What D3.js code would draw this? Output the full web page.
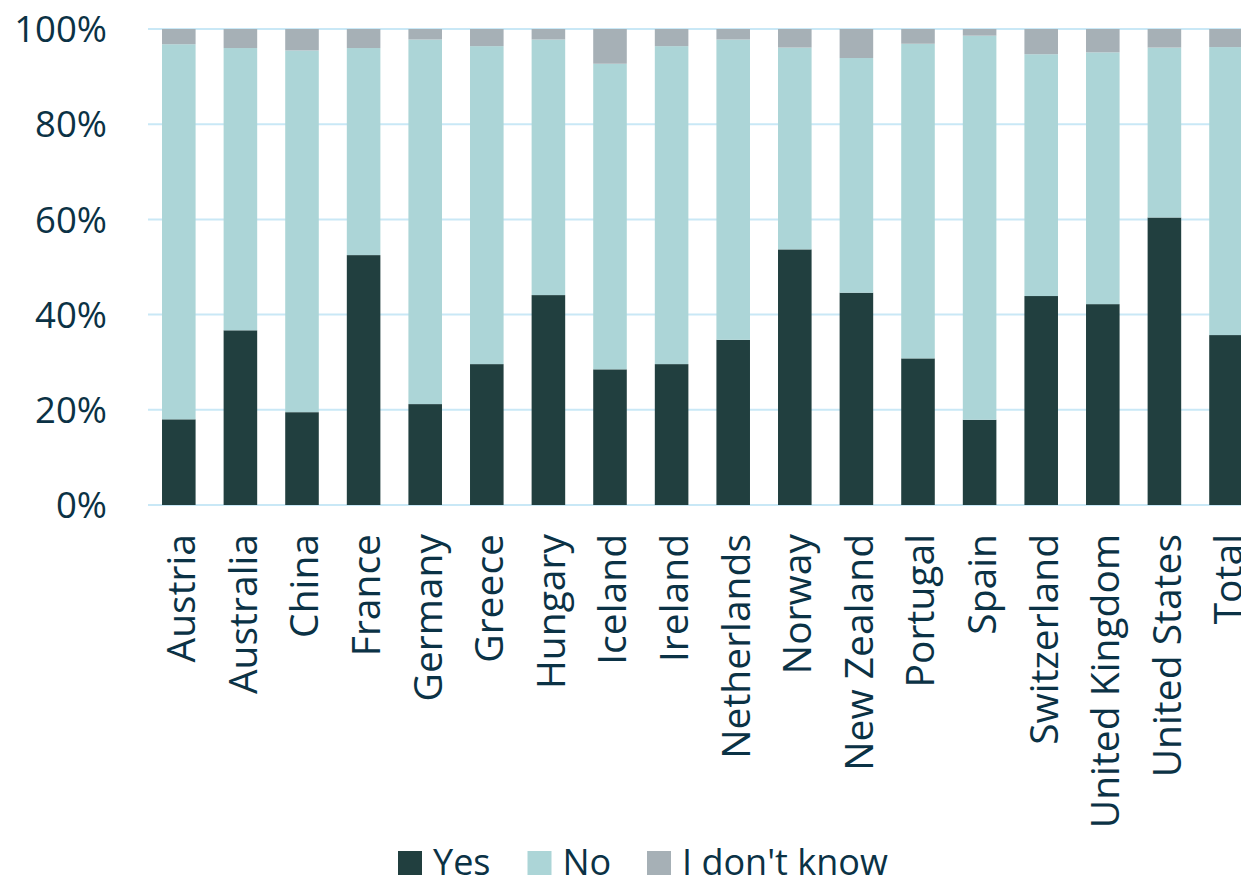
<!DOCTYPE html>
<html><head><meta charset="utf-8">
<script src="https://cdn.jsdelivr.net/npm/d3@7/dist/d3.min.js"></script>
<style>body{margin:0;background:#fff}svg{display:block}text{font-family:"Open Sans",sans-serif}</style>
</head><body><svg id="c" width="1241" height="878"></svg>
<script>
const categories = ["Austria","Australia","China","France","Germany","Greece","Hungary","Iceland","Ireland","Netherlands","Norway","New Zealand","Portugal","Spain","Switzerland","United Kingdom","United States","Total"];
const yesValues = [18.0,36.7,19.5,52.5,21.2,29.6,44.1,28.5,29.6,34.7,53.7,44.6,30.8,17.9,43.9,42.2,60.4,35.7];
const noValues  = [78.8,59.3,76.0,43.5,76.6,66.8,53.7,64.2,66.8,63.1,42.4,49.3,66.1,80.7,50.8,52.9,35.7,60.5];
const idkValues = [3.2,4.0,4.5,4.0,2.2,3.6,2.2,7.3,3.6,2.2,3.9,6.1,3.1,1.4,5.3,4.9,3.9,3.8];
const seriesNames = ["Yes","No","I don't know"];
const yTicks = [0,20,40,60,80,100];
const colors = ["#213f3f","#acd5d7","#a6b0b6"];
const textColor = "#0b3245";

const svg = d3.select("#c");
const x = d3.scaleBand().domain(categories).range([148, 148+18*61.6]).paddingInner(0.455).paddingOuter(0.2275);
const y = d3.scaleLinear().domain([0,100]).range([505,29]);

// grid
svg.append("g").selectAll("line").data(yTicks).join("line")
  .attr("x1",148).attr("x2",1241).attr("y1",d=>y(d)).attr("y2",d=>y(d))
  .attr("stroke","#c9e8f6").attr("stroke-width",2);

// y tick labels
svg.append("g").selectAll("text").data(yTicks).join("text")
  .attr("x",107).attr("y",d=>y(d)).attr("dy","0.36em").attr("text-anchor","end")
  .attr("font-size",36.5).attr("fill",textColor).text(d=>d+"%");

const rows = categories.map((c,i)=>({cat:c,Yes:yesValues[i],No:noValues[i],"I don't know":idkValues[i]}));
const stack = d3.stack().keys(seriesNames)(rows);
svg.append("g").selectAll("g").data(stack).join("g").attr("fill",(d,i)=>colors[i])
  .selectAll("rect").data(d=>d).join("rect")
  .attr("x",d=>x(d.data.cat)).attr("width",x.bandwidth())
  .attr("y",d=>y(d[1])).attr("height",d=>y(d[0])-y(d[1]));

// x labels
svg.append("g").selectAll("text").data(categories).join("text")
  .attr("transform",d=>`translate(${x(d)+x.bandwidth()/2},534) rotate(-90)`)
  .attr("dy","0.42em").attr("text-anchor","end")
  .attr("font-size",39).attr("fill",textColor).text(d=>d);

// legend
const legX = [398,527.5,647];
const leg = svg.append("g").selectAll("g").data(seriesNames).join("g")
  .attr("transform",(d,i)=>`translate(${legX[i]},851)`);
leg.append("rect").attr("width",24).attr("height",24).attr("fill",(d,i)=>colors[i]);
leg.append("text").attr("x",35).attr("y",24).attr("font-size",36).attr("fill",textColor).text(d=>d);
</script></body></html>
